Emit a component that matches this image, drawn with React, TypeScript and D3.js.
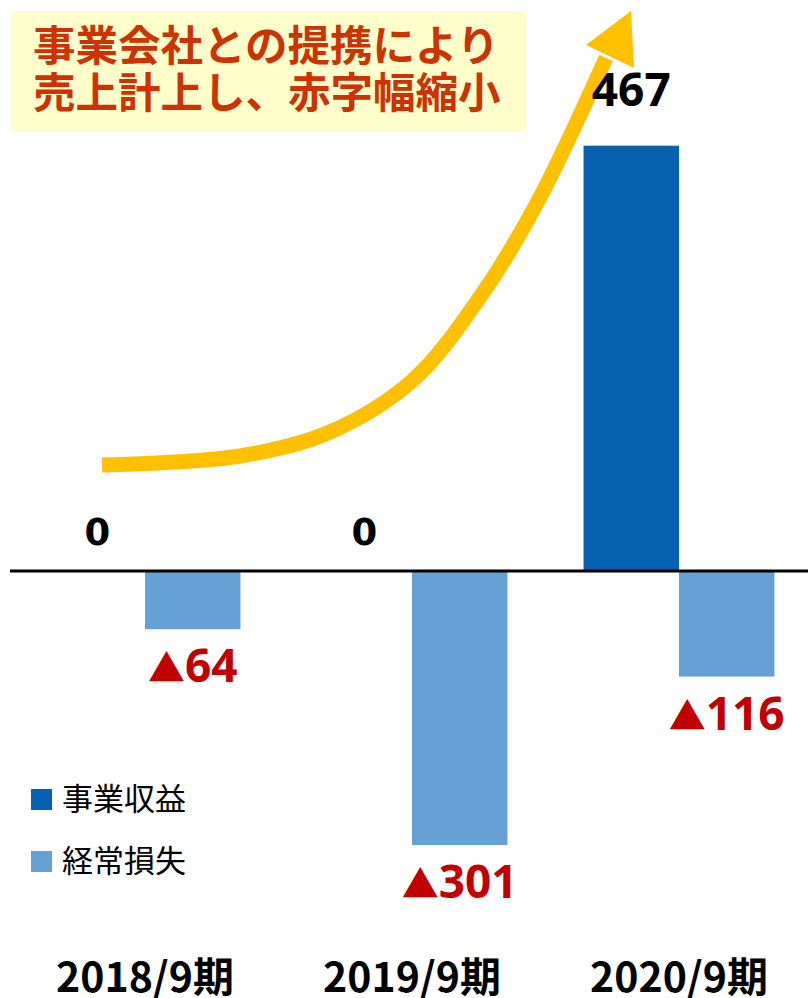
import React from 'react';
import * as d3 from 'd3';

const categories = ['2018/9期', '2019/9期', '2020/9期'];
const revenue = [0, 0, 467];
const loss = [-64, -301, -116];
const seriesNames = ['事業収益', '経常損失'];
const seriesColors = ['#0562B1', '#66A1D6'];
const titleLines = ['事業会社との提携により', '売上計上し、赤字幅縮小'];
// decorative growth arrow (pixel path)
const arrowPts: [number, number][] = [
  [102, 465], [240, 456], [330, 432], [413, 380], [480, 297], [537, 203], [606, 58],
];
const arrowHead: [number, number][] = [[631, 11], [586, 45], [634, 68]];

const W = 808;
const H = 998;
const JP = '"Noto Sans CJK JP", "Noto Sans", sans-serif';
const NUM = '"Noto Sans", "DejaVu Sans", sans-serif';
const ZERO = '"DejaVu Sans", "Noto Sans", sans-serif';

export default function App() {
  const y = d3.scaleLinear().domain([-469, 627]).range([H, 0]);
  const x = d3
    .scaleBand<string>()
    .domain(categories)
    .range([11.5, 812.5])
    .paddingInner(0.285)
    .paddingOuter(0.1425);
  const sub = d3.scaleBand<string>().domain(['rev', 'loss']).range([0, x.bandwidth()]);
  const bw = sub.bandwidth();
  const y0 = y(0);
  const line = d3.line().curve(d3.curveCatmullRom.alpha(0.5));

  return (
    <svg width={W} height={H} style={{ position: 'absolute', left: 0, top: 0, display: 'block', background: '#fff' }}>
      {/* title box */}
      <rect x={11} y={11} width={515} height={121} fill="#FFFFCC" />
      {titleLines.map((t, i) => (
        <text key={t} x={33} y={61 + i * 47} fontFamily={JP} fontWeight={700} fontSize={42.5} fill="#CC3300">
          {t}
        </text>
      ))}

      {/* bars */}
      {categories.map((c, i) => {
        const rv = revenue[i];
        const lv = loss[i];
        const rx = (x(c) as number) + (sub('rev') as number);
        const lx = (x(c) as number) + (sub('loss') as number);
        return (
          <g key={c}>
            {rv !== 0 && (
              <rect x={rx} y={y(Math.max(0, rv))} width={bw} height={Math.abs(y(rv) - y0)} fill={seriesColors[0]} />
            )}
            <rect x={lx} y={y(Math.max(0, lv))} width={bw} height={Math.abs(y(lv) - y0)} fill={seriesColors[1]} />
          </g>
        );
      })}

      {/* axis line */}
      <line x1={10} x2={W} y1={y0} y2={y0} stroke="#000" strokeWidth={3} />

      {/* arrow */}
      <path d={line(arrowPts) || ''} fill="none" stroke="#FFC000" strokeWidth={15} />
      <polygon points={arrowHead.map((p) => p.join(',')).join(' ')} fill="#FFC000" />

      {/* value labels */}
      {categories.map((c, i) => {
        const rv = revenue[i];
        const lv = loss[i];
        const rcx = (x(c) as number) + (sub('rev') as number) + bw / 2;
        const lcx = (x(c) as number) + (sub('loss') as number) + bw / 2;
        return (
          <g key={c + 'l'}>
            <text
              x={rcx}
              y={rv === 0 ? y(rv) - 26 : y(rv) - 40}
              textAnchor="middle"
              fontFamily={rv === 0 ? ZERO : NUM}
              fontWeight={700}
              fontSize={rv === 0 ? 37 : 46}
              fill="#000"
            >
              {rv}
            </text>
            <text x={lcx} y={y(lv) + 53} textAnchor="middle" fontFamily={NUM} fontWeight={700} fontSize={46} fill="#C00000">
              <tspan fontFamily={JP} fontSize={37}>▲</tspan>
              {Math.abs(lv)}
            </text>
          </g>
        );
      })}

      {/* category labels */}
      {categories.map((c) => (
        <text
          key={c + 'c'}
          x={(x(c) as number) + x.bandwidth() / 2}
          y={992}
          textAnchor="middle"
          fontFamily={JP}
          fontWeight={700}
          fontSize={41}
          fill="#000"
        >
          {c}
        </text>
      ))}

      {/* legend */}
      {seriesNames.map((s, i) => (
        <g key={s} transform={`translate(31, ${789 + i * 62})`}>
          <rect x={0} y={0} width={21} height={21} fill={seriesColors[i]} />
          <text x={31} y={21} fontFamily={JP} fontSize={31} fill="#000">
            {s}
          </text>
        </g>
      ))}
    </svg>
  );
}
